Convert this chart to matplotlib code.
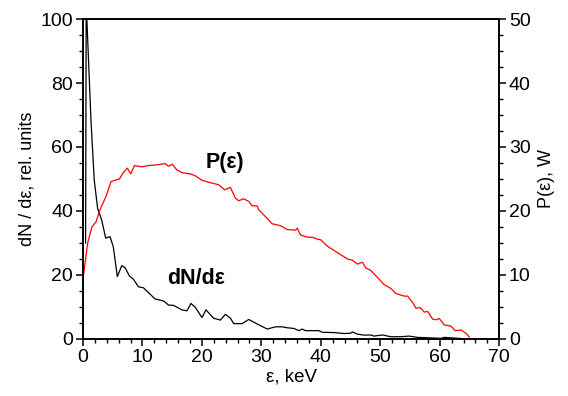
import matplotlib
matplotlib.use('Agg')
import matplotlib.pyplot as plt
from matplotlib.ticker import MultipleLocator

plt.rcParams['font.family'] = ['Liberation Sans', 'DejaVu Sans']

# dN/de, rel. units (left axis)
e_dn = [0.45, 0.55, 1.35, 1.9, 2.47, 3.15, 3.83, 4.55, 5.11, 5.78, 6.53, 7.08, 7.81, 8.48,
        9.33, 10.17, 11.01, 12.14, 13.54, 14.38, 15.23, 16.64, 17.49, 18.16, 18.89, 20.02,
        20.69, 21.97, 23.1, 23.95, 24.8, 25.35, 26.76, 27.88, 29.29, 30.98, 32.38, 33.51,
        34.35, 35.46, 36.31, 36.88, 37.44, 39.68, 40.25, 42.21, 43.9, 45.03, 45.31, 46.16,
        47.27, 48.4, 48.95, 50.37, 51.77, 53.46, 54.86, 56.27, 60.2, 60.76, 63.86]
dn = [30, 105, 68.4, 49.7, 40.8, 37.2, 31.5, 32.0, 28.8, 19.5, 22.9, 22.3, 19.7, 18.7,
      16.3, 16.0, 14.5, 12.5, 11.9, 10.6, 10.5, 9.1, 8.8, 11.1, 9.9, 6.7,
      9.1, 6.5, 5.9, 7.7, 6.5, 4.8, 4.8, 6.1, 4.7, 3.1, 3.8, 3.8,
      3.5, 3.3, 2.6, 3.1, 2.6, 2.6, 2.1, 2.0, 1.7, 1.8, 2.2, 1.5,
      1.2, 1.25, 0.9, 1.25, 0.7, 0.7, 0.9, 0.5, 0.2, 0.5, 0.1]

# P(e), W (right axis)
e_p = [0.1, 0.8, 1.5, 2.2, 2.75, 3.2, 3.9, 4.72, 5.4, 6.12, 6.8, 7.47, 8.04, 8.65, 9.9,
       11.01, 12.43, 13.83, 14.38, 15.06, 15.8, 16.64, 18.04, 18.89, 20.02, 21.13, 22.82,
       23.83, 24.79, 25.63, 26.19, 27.03, 27.88, 28.45, 29.29, 29.56, 30.4, 31.82, 33.22,
       34.35, 35.75, 36.04, 36.59, 37.72, 38.57, 39.41, 39.97, 41.1, 42.78, 44.47, 45.31,
       46.16, 47.0, 47.55, 48.4, 49.53, 50.64, 51.77, 52.61, 54.01, 54.59, 55.43, 55.99,
       56.71, 57.39, 57.96, 58.8, 59.36, 59.92, 60.76, 61.89, 62.56, 63.58, 64.4, 64.96]
p = [10.0, 15.0, 17.5, 18.3, 19.9, 20.9, 22.3, 24.6, 24.8, 25.0, 26.0, 26.7, 25.8, 27.1, 26.9,
     27.1, 27.2, 27.4, 27.0, 27.3, 26.4, 26.0, 25.8, 25.5, 24.8, 24.5, 24.1,
     23.3, 23.7, 22.0, 21.6, 21.9, 21.5, 20.8, 20.8, 20.2, 19.4, 18.0, 17.7,
     17.1, 17.0, 17.3, 16.25, 15.9, 15.9, 15.6, 15.5, 14.5, 13.5, 12.5, 12.3,
     11.7, 12.0, 11.1, 10.7, 9.6, 8.5, 7.9, 7.1, 6.7, 6.7, 5.7, 4.8,
     4.9, 4.2, 4.3, 3.1, 3.0, 3.2, 2.2, 2.0, 1.3, 1.4, 0.9, 0.3]

fig = plt.figure(figsize=(5.68, 3.96), dpi=100)
ax = fig.add_axes([0.146, 0.144, 0.733, 0.808])
ax2 = ax.twinx()

ax.plot(e_dn, dn, color='black', lw=0.9)
ax2.plot(e_p, p, color='red', lw=0.9)

ax.set_xlim(0, 70)
ax.set_ylim(0, 100)
ax2.set_ylim(0, 50)

ax.xaxis.set_major_locator(MultipleLocator(10))
ax.xaxis.set_minor_locator(MultipleLocator(2))
ax.yaxis.set_major_locator(MultipleLocator(20))
ax.yaxis.set_minor_locator(MultipleLocator(5))
ax2.yaxis.set_major_locator(MultipleLocator(10))
ax2.yaxis.set_minor_locator(MultipleLocator(2.5))

for a in (ax, ax2):
    for s in a.spines.values():
        s.set_linewidth(1.2)
    a.tick_params(which='major', direction='out', length=5, width=1.1, labelsize=14, pad=2)
    a.tick_params(which='minor', direction='out', length=3, width=1.0)

ax.set_xlabel('ε, keV', fontsize=13.5, labelpad=2)
ax.set_ylabel('dN / dε, rel. units', fontsize=13, labelpad=4)
ax2.set_ylabel('P(ε), W', fontsize=13, labelpad=5)

ax.text(20.6, 55, 'P(ε)', fontsize=15.5, fontweight='bold', va='center', ha='left')
ax.text(14.2, 19, 'dN/dε', fontsize=15.5, fontweight='bold', va='center', ha='left')

fig.savefig('out.png', dpi=100)
